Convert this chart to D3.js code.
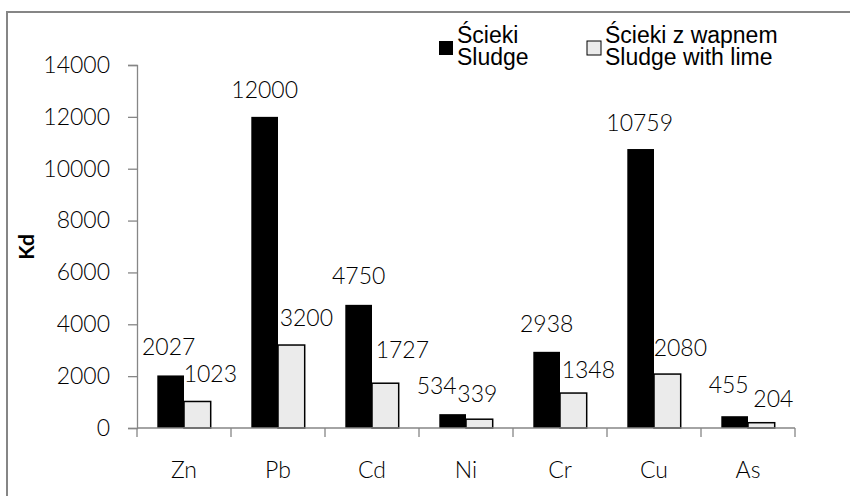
<!DOCTYPE html>
<html>
<head>
<meta charset="utf-8">
<script src="https://cdn.jsdelivr.net/npm/d3@7"></script>
<style>
  body { margin: 0; background: #fff; }
  svg text { font-family: Lato, "Open Sans", sans-serif; }
  .num { font-weight: 300; }
</style>
</head>
<body>
<svg id="chart" width="850" height="496"></svg>
<script>
const metals = ["Zn", "Pb", "Cd", "Ni", "Cr", "Cu", "As"];
const sludge = [2027, 12000, 4750, 534, 2938, 10759, 455];
const sludgeLime = [1023, 3200, 1727, 339, 1348, 2080, 204];
const yTicks = [0, 2000, 4000, 6000, 8000, 10000, 12000, 14000];
const seriesNames = ["sludge", "lime"];
const legendLines = [
  ["Ścieki", "Sludge"],
  ["Ścieki z wapnem", "Sludge with lime"]
];

// small hand nudges for the value labels, like in the original
const nudge = {
  sludge: [[-2, -1], [0, 0], [0, -2], [-16, -1], [0, -1], [-1, 1], [-6, -4]],
  lime: [[-1, 0], [1, 0], [3, -6], [-16, 2], [1, 4], [-1, 1], [-2, 3]]
};

const rows = metals.map((m, i) => ({ metal: m, sludge: sludge[i], lime: sludgeLime[i], i }));

const svg = d3.select("#chart");
const axisColor = "#868686";

// outer frame (top and left edges visible)
svg.append("path")
  .attr("d", "M7,496 L7,12 L850,12")
  .attr("fill", "none")
  .attr("stroke", axisColor)
  .attr("stroke-width", 2);

const x0 = d3.scaleBand().domain(metals).range([137, 795]);
const bw = x0.bandwidth();
const x1 = d3.scaleBand().domain(seriesNames).range([bw * 0.216, bw * 0.784]);
const y = d3.scaleLinear().domain([0, 14000]).range([428, 65]);

const fills = { sludge: "#000000", lime: "#ebebeb" };

// y axis
const yAxis = svg.append("g")
  .attr("transform", "translate(137,0)")
  .call(d3.axisLeft(y).tickValues(yTicks).tickSize(9).tickPadding(18).tickFormat(d3.format("d")));
yAxis.select(".domain").attr("stroke", axisColor).attr("stroke-width", 1.3);
yAxis.selectAll(".tick line").attr("stroke", axisColor).attr("stroke-width", 1.3);
yAxis.selectAll(".tick text")
  .attr("class", "num")
  .attr("font-size", 23)
  .attr("font-family", "Lato")
  .attr("fill", "#000");

// bars
const groups = svg.append("g").selectAll("g")
  .data(rows)
  .join("g")
  .attr("transform", d => `translate(${x0(d.metal)},0)`);

groups.selectAll("rect")
  .data(d => seriesNames.map(k => ({ key: k, value: d[k] })))
  .join("rect")
  .attr("x", d => x1(d.key))
  .attr("y", d => y(d.value))
  .attr("width", x1.bandwidth())
  .attr("height", d => y(0) - y(d.value))
  .attr("fill", d => fills[d.key])
  .attr("stroke", d => d.key === "lime" ? "#000" : "none")
  .attr("stroke-width", 1.5);

// value labels
groups.selectAll("text.val")
  .data(d => seriesNames.map(k => ({ key: k, value: d[k], i: d.i })))
  .join("text")
  .attr("class", "val num")
  .attr("x", d => x1(d.key) + x1.bandwidth() / 2 + (d.key === "lime" ? 14 : 0) + nudge[d.key][d.i][0])
  .attr("y", d => y(d.value) - 19 + nudge[d.key][d.i][1])
  .attr("text-anchor", "middle")
  .attr("font-size", 23)
  .attr("fill", "#000")
  .text(d => d.value);

// x axis
svg.append("line")
  .attr("x1", 137).attr("x2", 795)
  .attr("y1", y(0)).attr("y2", y(0))
  .attr("stroke", axisColor).attr("stroke-width", 1.3);

const bounds = metals.map(m => x0(m)).concat([x0.range()[1]]);
svg.append("g").selectAll("line")
  .data(bounds)
  .join("line")
  .attr("x1", d => d).attr("x2", d => d)
  .attr("y1", y(0)).attr("y2", y(0) + 9)
  .attr("stroke", axisColor).attr("stroke-width", 1.3);

svg.append("g").selectAll("text")
  .data(metals)
  .join("text")
  .attr("class", "num")
  .attr("x", d => x0(d) + bw / 2)
  .attr("y", 478)
  .attr("text-anchor", "middle")
  .attr("font-size", 23)
  .attr("fill", "#000")
  .text(d => d);

// y axis title
svg.append("text")
  .attr("transform", "translate(34,247) rotate(-90)")
  .attr("text-anchor", "middle")
  .attr("font-size", 21)
  .attr("font-weight", "bold")
  .attr("fill", "#000")
  .text("Kd");

// legend
const legendX = [439, 587];
const legend = svg.append("g").selectAll("g")
  .data(seriesNames)
  .join("g")
  .attr("transform", (d, i) => `translate(${legendX[i]},0)`);

legend.append("rect")
  .attr("x", 0).attr("y", 41)
  .attr("width", 14).attr("height", 14)
  .attr("fill", d => fills[d])
  .attr("stroke", d => d === "lime" ? "#000" : "none")
  .attr("stroke-width", 1);

legend.each(function(d, i) {
  const t = d3.select(this).append("text")
    .attr("font-size", 23)
    .attr("fill", "#000");
  legendLines[i].forEach((line, j) => {
    t.append("tspan")
      .attr("x", 18)
      .attr("y", 43 + j * 22)
      .style("font-family", "Liberation Sans, Arial, sans-serif")
      .text(line);
  });
});
</script>
</body>
</html>
